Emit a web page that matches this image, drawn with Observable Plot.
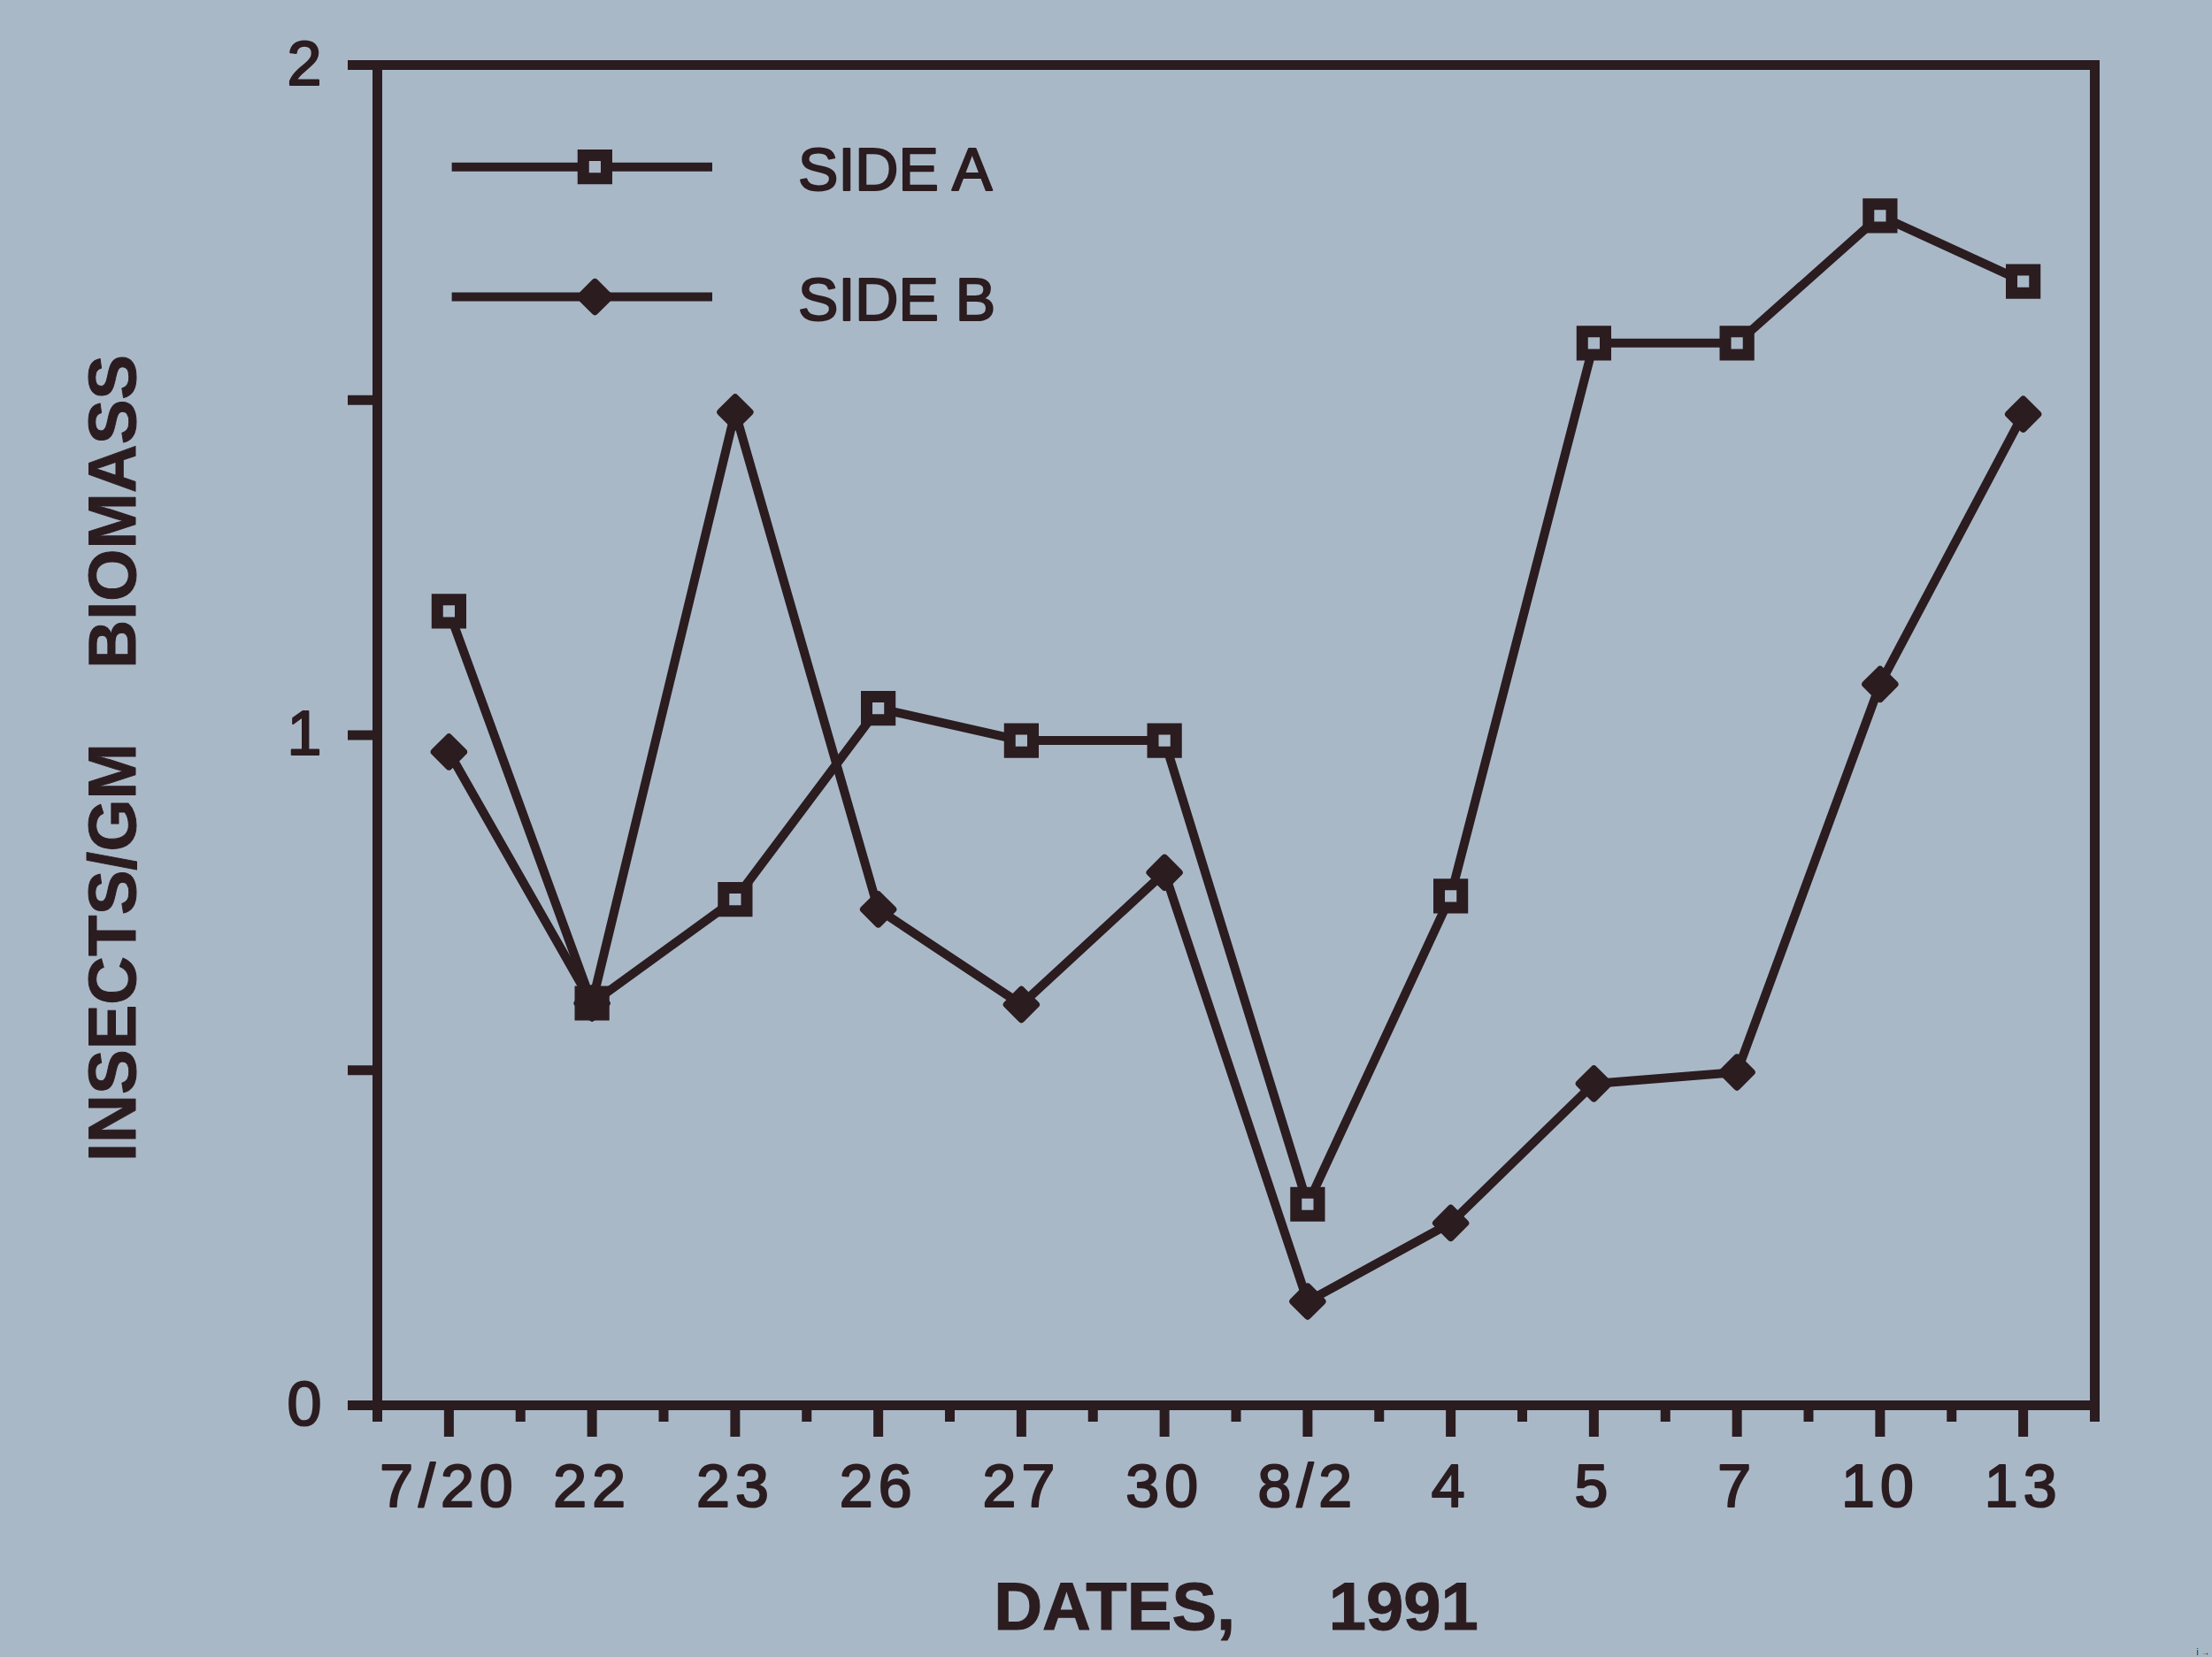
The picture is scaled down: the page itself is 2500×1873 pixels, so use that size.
<!DOCTYPE html>
<html>
<head>
<meta charset="utf-8">
<script src="https://cdn.jsdelivr.net/npm/d3@7"></script>
<script src="https://cdn.jsdelivr.net/npm/@observablehq/plot@0.6"></script>
<style>
  html, body { margin: 0; padding: 0; background: #a9b8c7; }
  #chart svg g[aria-label="x-axis tick label"] text { letter-spacing: 6px; }
  #chart svg g[aria-label="x-axis tick label"] text,
  #chart svg g[aria-label="y-axis tick label"] text,
  #chart svg g.legend-text text { stroke: #2b1c20; stroke-width: 2.2px; stroke-linejoin: round; }
  #chart svg g.title-text text { stroke: #2b1c20; stroke-width: 1px; stroke-linejoin: round; }
</style>
</head>
<body>
<div id="chart"></div>
<script>
// ---- data ----
const dates = ["7/20", "22", "23", "26", "27", "30", "8/2", "4", "5", "7", "10", "13"];
const sideA = [1.185, 0.60, 0.755, 1.04, 0.992, 0.992, 0.30, 0.76, 1.585, 1.585, 1.775, 1.677];
const sideB = [0.975, 0.60, 1.482, 0.74, 0.598, 0.795, 0.155, 0.272, 0.48, 0.497, 1.076, 1.479];
const seriesNames = ["SIDE A", "SIDE B"];
const yTicks = [0, 0.5, 1, 1.5, 2];
const yTickLabels = ["0", "", "1", "", "2"];
const xTitle = "DATES,\u00a0\u00a0\u00a0\u00a0\u00a01991";
const yTitle = "INSECTS/GM\u00a0\u00a0\u00a0\u00a0BIOMASS";

// ---- build tables ----
const rowsA = dates.map((d, i) => ({i, date: d, value: sideA[i]}));
const rowsB = dates.map((d, i) => ({i, date: d, value: sideB[i]}));
const majorTicks = dates.map((d, i) => i);
const minorTicks = d3.range(-0.5, dates.length, 1);

// ---- style ----
const ink = "#2b1c20";
const bg = "#a9b8c7";
const font = "'Liberation Sans', Arial, Helvetica, sans-serif";

// legend layout (in scale units of the frame)
const legendItems = seriesNames.map((name, k) => ({name, k}));
const legendLineX = [0.02, 1.84];
const legendMarkX = 1.02;
const legendTextX = 2.44;
const legendY = [1.848, 1.654];

const squareStyle = {symbol: "square", r: 14.8, fill: bg, stroke: ink, strokeWidth: 13};
const diamondStyle = {symbol: "diamond2", r: 15, fill: ink, stroke: ink, strokeWidth: 8, strokeLinejoin: "round"};

const plot = Plot.plot({
  width: 2500,
  height: 1873,
  marginLeft: 426,
  marginRight: 133,
  marginTop: 73,
  marginBottom: 285,
  style: {background: bg, fontFamily: font, color: ink, overflow: "visible"},
  x: {domain: [-0.5, dates.length - 0.5], axis: null},
  y: {domain: [0, 2], axis: null},
  marks: [
    Plot.frame({stroke: ink, strokeWidth: 11}),
    // minor x ticks
    Plot.axisX({ticks: minorTicks, tickSize: 19, tickFormat: () => "", stroke: ink, strokeWidth: 11}),
    // major x ticks with labels
    Plot.axisX({
      ticks: majorTicks, tickSize: 36, tickPadding: 30,
      tickFormat: (i) => dates[i], stroke: ink, strokeWidth: 11,
      fontSize: 68, fill: ink, label: null
    }),
    // y ticks
    Plot.axisY({
      ticks: yTicks, tickSize: 33, tickPadding: 30,
      tickFormat: (v) => yTickLabels[yTicks.indexOf(v)], stroke: ink, strokeWidth: 11,
      fontSize: 70, fill: ink, label: null
    }),
    // titles
    Plot.text([xTitle], {
      frameAnchor: "bottom", dy: 229, text: (d) => d, fontSize: 76, fontWeight: "bold",
      fill: ink, lineAnchor: "middle", textAnchor: "middle", className: "title-text"
    }),
    Plot.text([yTitle], {
      frameAnchor: "left", dx: -298, dy: 26, rotate: -90, text: (d) => d, fontSize: 76,
      fontWeight: "bold", fill: ink, lineAnchor: "middle", textAnchor: "middle", className: "title-text"
    }),
    // series lines
    Plot.line(rowsA, {x: "i", y: "value", stroke: ink, strokeWidth: 10}),
    Plot.line(rowsB, {x: "i", y: "value", stroke: ink, strokeWidth: 10}),
    // markers
    Plot.dot(rowsA, {x: "i", y: "value", ...squareStyle}),
    Plot.dot(rowsB, {x: "i", y: "value", ...diamondStyle}),
    // legend
    Plot.link(legendItems, {
      x1: () => legendLineX[0], x2: () => legendLineX[1],
      y1: (d) => legendY[d.k], y2: (d) => legendY[d.k],
      stroke: ink, strokeWidth: 10
    }),
    Plot.dot(legendItems.filter(d => d.k === 0), {x: () => legendMarkX, y: (d) => legendY[d.k], ...squareStyle}),
    Plot.dot(legendItems.filter(d => d.k === 1), {x: () => legendMarkX, y: (d) => legendY[d.k], ...diamondStyle}),
    Plot.text(legendItems, {
      x: () => legendTextX, y: (d) => legendY[d.k], text: "name", dy: 5,
      fontSize: 68, fill: ink, textAnchor: "start", lineAnchor: "middle", className: "legend-text"
    })
  ]
});
document.getElementById("chart").appendChild(plot);
</script>
</body>
</html>
